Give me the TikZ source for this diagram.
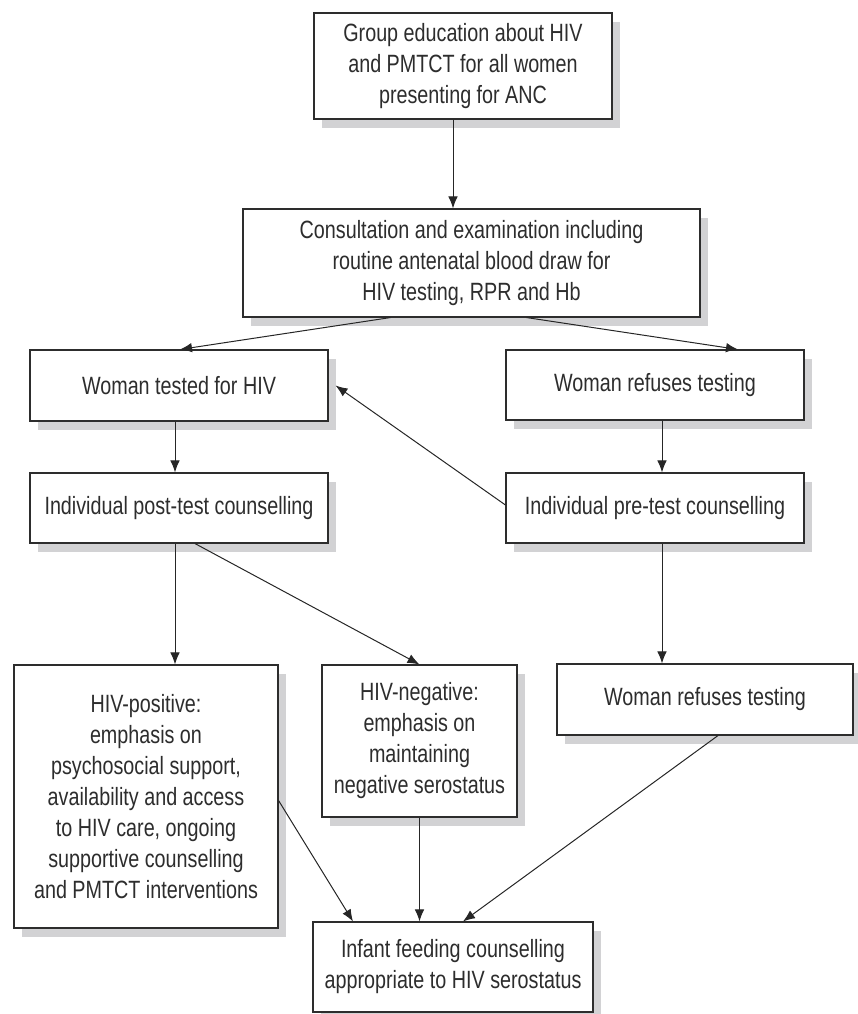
\documentclass[tikz,border=0pt]{standalone}
\usepackage{fontspec}
\setmainfont{Liberation Sans}[FakeStretch=0.79]
\usetikzlibrary{positioning,arrows.meta,shadows}

\definecolor{shadowgray}{RGB}{210,210,212}
\definecolor{inkgray}{RGB}{45,45,45}

\tikzset{
  flowbox/.style={draw=inkgray, line width=1.1pt, fill=white, align=center,
    inner sep=0pt, text=inkgray, font=\fontsize{25}{31}\selectfont,
    drop shadow={shadow xshift=8pt, shadow yshift=-9pt, fill=shadowgray, opacity=1}},
  arr/.style={-{Latex[length=12pt,width=9.5pt]}, line width=1pt, draw=black!85}
}

\begin{document}
\begin{tikzpicture}[x=1pt, y=-1pt]
    \useasboundingbox (0,0) rectangle (858,1014);

    % Boxes
    \node[flowbox, minimum width=298pt, minimum height=106pt] (group) at (463,66)
      {Group education about HIV\\and PMTCT for all women\\presenting for ANC};
    \node[flowbox, minimum width=457pt, minimum height=108pt] (consult) at (471.5,263)
      {Consultation and examination including\\routine antenatal blood draw for\\HIV testing, RPR and Hb};
    \node[flowbox, minimum width=298pt, minimum height=71pt] (tested) at (179,385.5)
      {Woman tested for HIV};
    \node[flowbox, minimum width=298pt, minimum height=70pt] (refuse) at (655,385)
      {Woman refuses testing};
    \node[flowbox, minimum width=298pt, minimum height=70pt] (posttest) at (179,508)
      {Individual post-test counselling};
    \node[flowbox, minimum width=298pt, minimum height=70pt] (pretest) at (655,508)
      {Individual pre-test counselling};
    \node[flowbox, minimum width=264pt, minimum height=263pt] (positive) at (146,796.5)
      {HIV-positive:\\emphasis on\\psychosocial support,\\availability and access\\to HIV care, ongoing\\supportive counselling\\and PMTCT interventions};
    \node[flowbox, minimum width=195pt, minimum height=152pt] (negative) at (419.5,741)
      {HIV-negative:\\emphasis on\\maintaining\\negative serostatus};
    \node[flowbox, minimum width=296pt, minimum height=71pt] (refusetoo) at (705,699.5)
      {Woman refuses testing};
    \node[flowbox, minimum width=280pt, minimum height=90pt] (infant) at (453,967)
      {Infant feeding counselling\\appropriate to HIV serostatus};

    % Arrows
    \draw[arr] ([xshift=-10pt]group.south) -- ([xshift=-10pt]group.south |- consult.north);
    \draw[arr] ([xshift=-81pt]consult.south) -- ([xshift=1pt]tested.north);
    \draw[arr] ([xshift=55pt]consult.south) -- ([xshift=83pt]refuse.north);
    \draw[arr] ([xshift=-4pt]tested.south) -- ([xshift=-4pt]tested.south |- posttest.north);
    \draw[arr] ([xshift=7pt]refuse.south) -- ([xshift=7pt]refuse.south |- pretest.north);
    \draw[arr] ([yshift=3pt]pretest.west) -- ([xshift=7pt]tested.east);
    \draw[arr] ([xshift=-4pt]posttest.south) -- ([xshift=-4pt]posttest.south |- positive.north);
    \draw[arr] ([xshift=16pt]posttest.south) -- (negative.north);
    \draw[arr] ([xshift=7pt]pretest.south) -- ([xshift=7pt]pretest.south |- refusetoo.north);
    \draw[arr] ([yshift=-4pt]positive.east) -- ([xshift=-100pt]infant.north);
    \draw[arr] (negative.south) -- (negative.south |- infant.north);
    \draw[arr] ([xshift=13pt]refusetoo.south) -- ([xshift=10pt]infant.north);

\end{tikzpicture}
\end{document}
